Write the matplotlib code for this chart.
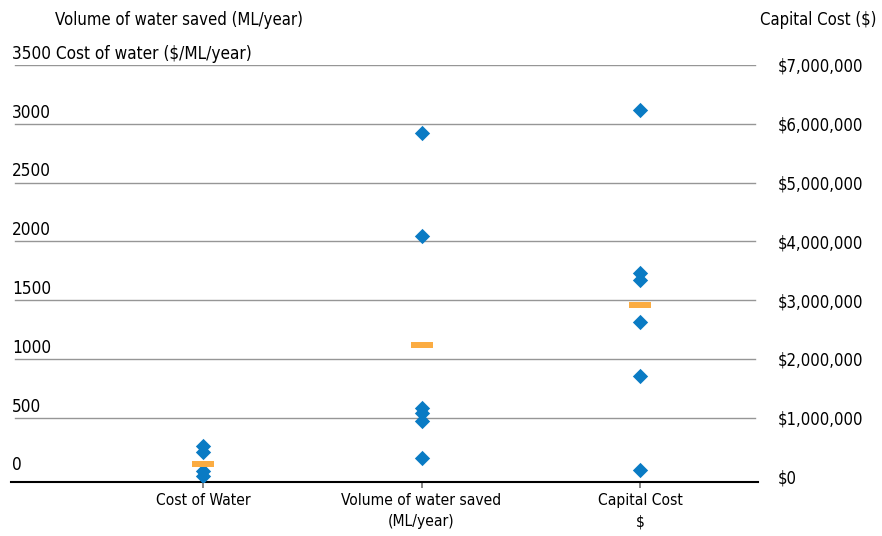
import os
import matplotlib
matplotlib.use("Agg")
import matplotlib.pyplot as plt
from matplotlib.path import Path
from matplotlib import font_manager
from matplotlib.font_manager import FontProperties

# ---------------- data ----------------
categories = ["Cost of Water", "Volume of water saved\n(ML/year)", "Capital Cost\n$"]
cost_of_water = [262, 205, 45, 5]                 # $/ML/year
volume_saved = [2924, 2046, 580, 538, 475, 155]   # ML/year
capital_cost = [6230000, 3460000, 3340000, 2620000, 1710000, 110000]  # $
average_cost = 109
average_volume = 1116
average_capital = 2920000

left_ticks = [0, 500, 1000, 1500, 2000, 2500, 3000, 3500]
right_ticks = [0, 1000000, 2000000, 3000000, 4000000, 5000000, 6000000, 7000000]
right_tick_labels = ["$0", "$1,000,000", "$2,000,000", "$3,000,000", "$4,000,000",
                     "$5,000,000", "$6,000,000", "$7,000,000"]
left_title = "Volume of water saved (ML/year)"
left_subtitle = "Cost of water ($/ML/year)"
right_title = "Capital Cost ($)"

# ---------------- fonts: look for a narrow face ----------------
prefs = ["LiberationSansNarrow-Regular", "DejaVuSansCondensed.ttf", "RobotoCondensed-Regular",
         "NotoSans-Condensed.ttf", "NotoSans-SemiCondensed.ttf", "OpenSans-CondRegular",
         "OpenSansCondensed"]
files = [f.fname for f in font_manager.fontManager.ttflist]
narrow = None
for p in prefs:
    for fn in files:
        if p.lower() in os.path.basename(fn).lower():
            narrow = fn
            break
    if narrow:
        break
if narrow is None:
    for fn in files:
        b = os.path.basename(fn).lower()
        if ("condensed" in b or "narrow" in b) and not any(
                k in b for k in ("bold", "italic", "oblique", "light", "thin", "black", "medium", "extra", "semi")):
            narrow = fn
            break

k = 1.0 if narrow else 0.92


def fp(size):
    if narrow:
        return FontProperties(fname=narrow, size=size * k)
    return FontProperties(family="DejaVu Sans", size=size * k)


FS_LEFT = 12.3
FS_RIGHT = 12.0
FS_X = 11.2
FS_TITLE = 12.0

BLUE = "#0A7BC4"
ORANGE = "#FBAC42"
GRID = "#969696"

W, H = 882, 536
fig = plt.figure(figsize=(W / 100, H / 100), dpi=100)
ax_left_px, ax_right_px, ax_top_px, ax_bot_px = 11, 758, 65, 481.7
ax = fig.add_axes([ax_left_px / W, 1 - ax_bot_px / H,
                   (ax_right_px - ax_left_px) / W, (ax_bot_px - ax_top_px) / H])
ax2 = ax.twinx()

ymin, ymax = -44, 3500
ax.set_ylim(ymin, ymax)
scale = right_ticks[-1] / left_ticks[-1]
ax2.set_ylim(ymin * scale, ymax * scale)
ax.set_xlim(-0.879, 2.540)

diamond = Path([(0, 1), (1, 0), (0, -1), (-1, 0), (0, 1)],
               [Path.MOVETO, Path.LINETO, Path.LINETO, Path.LINETO, Path.CLOSEPOLY])
bar = Path([(-1, -0.3), (1, -0.3), (1, 0.3), (-1, 0.3), (-1, -0.3)],
           [Path.MOVETO, Path.LINETO, Path.LINETO, Path.LINETO, Path.CLOSEPOLY])
DMS = 11
BMS = 16.5

# gridlines
for t in left_ticks[1:]:
    ax.axhline(t, xmin=4 / 747, xmax=744 / 747, color=GRID, lw=1.0, zorder=1)

# markers
ax.plot([0] * len(cost_of_water), cost_of_water, linestyle='none', marker=diamond,
        markersize=DMS, color=BLUE, markeredgewidth=0, zorder=3)
ax.plot([1] * len(volume_saved), volume_saved, linestyle='none', marker=diamond,
        markersize=DMS, color=BLUE, markeredgewidth=0, zorder=3)
ax2.plot([2] * len(capital_cost), capital_cost, linestyle='none', marker=diamond,
         markersize=DMS, color=BLUE, markeredgewidth=0, zorder=3)
ax.plot([0, 1], [average_cost, average_volume], linestyle='none', marker=bar,
        markersize=BMS, color=ORANGE, markeredgewidth=0, zorder=4)
ax2.plot([2], [average_capital], linestyle='none', marker=bar,
         markersize=BMS, color=ORANGE, markeredgewidth=0, zorder=4)

# spines
for a in (ax, ax2):
    for s in ("left", "right", "top"):
        a.spines[s].set_visible(False)
    a.spines["bottom"].set_color("black")
    a.spines["bottom"].set_linewidth(1.5)
ax2.spines["bottom"].set_visible(False)

# x ticks
ax.set_xticks(range(len(categories)))
ax.set_xticklabels(categories, fontproperties=fp(FS_X), linespacing=1.55)
ax.tick_params(axis='x', length=4.5, width=1.2, color="#707070", pad=3.5)

# left tick labels, drawn sitting on their gridlines
ax.set_yticks([])
for t in left_ticks:
    label = str(t)
    if t == left_ticks[-1]:
        label = f"{t} {left_subtitle}"
    ax.annotate(label, xy=(0, t), xycoords=('axes fraction', 'data'),
                xytext=(0.8, 1.5), textcoords='offset points',
                ha='left', va='bottom', fontproperties=fp(FS_LEFT))

# right tick labels
ax2.set_yticks(right_ticks)
ax2.set_yticklabels(right_tick_labels, fontproperties=fp(FS_RIGHT))
ax2.tick_params(axis='y', length=0, pad=14)

fig.text(55 / W, 1 - 20 / H, left_title, ha='left', va='center', fontproperties=fp(FS_TITLE))
fig.text(877 / W, 1 - 20 / H, right_title, ha='right', va='center', fontproperties=fp(FS_TITLE))

fig.savefig("out.png", dpi=100)
